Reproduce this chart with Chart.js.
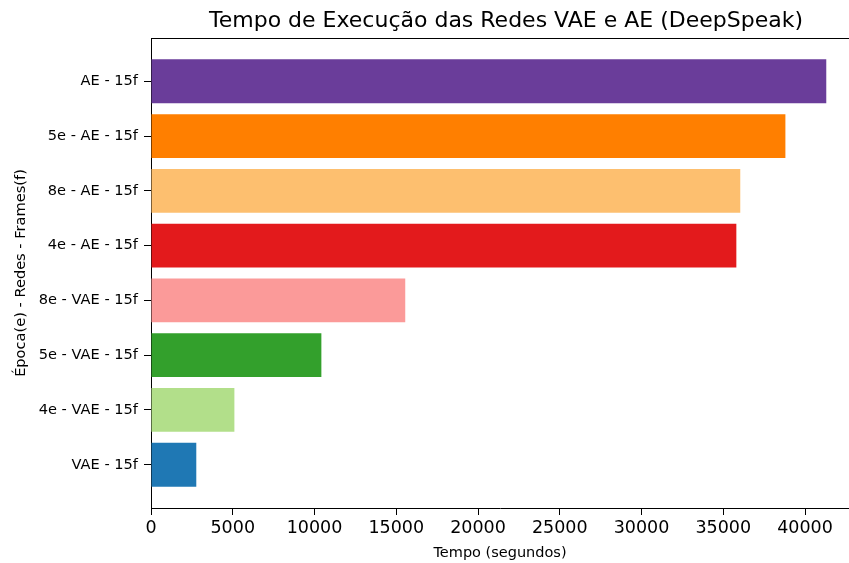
<!DOCTYPE html>
<html>
<head>
<meta charset="utf-8">
<script src="https://cdn.jsdelivr.net/npm/chart.js@4.4.1/dist/chart.umd.min.js"></script>
<style>
  html, body { margin: 0; padding: 0; background: #fff; }
</style>
</head>
<body>
<canvas id="tempoChart" width="849" height="563"></canvas>
<script>
// dados (de baixo para cima)
const labels = ["VAE - 15f", "4e - VAE - 15f", "5e - VAE - 15f", "8e - VAE - 15f",
                "4e - AE - 15f", "8e - AE - 15f", "5e - AE - 15f", "AE - 15f"];
const tempos = [2770, 5100, 10420, 15550, 35800, 36040, 38800, 41300];
const colors = ["#1f78b4", "#b2df8a", "#33a02c", "#fb9a99",
                "#e31a1c", "#fdbf6f", "#ff7f00", "#6a3d9a"];
const xTicks = [0, 5000, 10000, 15000, 20000, 25000, 30000, 35000, 40000];
const titulo = "Tempo de Execução das Redes VAE e AE (DeepSpeak)";

const fonte = '"DejaVu Sans", sans-serif';

// titulo + borda de cima (estilo matplotlib)
const tituloPlugin = {
  id: "tituloTopo",
  afterDraw(chart) {
    const { ctx, chartArea } = chart;
    ctx.save();
    ctx.strokeStyle = "#000";
    ctx.lineWidth = 1;
    ctx.beginPath();
    ctx.moveTo(chartArea.left, chartArea.top + 0.5);
    ctx.lineTo(chartArea.right, chartArea.top + 0.5);
    ctx.stroke();
    ctx.font = "22px " + fonte;
    ctx.fillStyle = "#000";
    ctx.textAlign = "center";
    ctx.textBaseline = "alphabetic";
    ctx.fillText(titulo, (chartArea.left + chartArea.right) / 2 + 6, 27);
    ctx.restore();
  }
};

const ctx = document.getElementById("tempoChart");
new Chart(ctx, {
  type: "bar",
  data: {
    datasets: [{
      data: tempos.map((v, i) => ({ x: v, y: i })),
      backgroundColor: colors,
      borderWidth: 0,
      categoryPercentage: 1,
      barPercentage: 0.8
    }]
  },
  options: {
    indexAxis: "y",
    responsive: false,
    animation: false,
    layout: { padding: { top: 38, left: 0, right: 0, bottom: 0 } },
    plugins: {
      legend: { display: false },
      tooltip: { enabled: false },
      title: { display: false }
    },
    scales: {
      x: {
        type: "linear",
        min: 0,
        max: 42690,
        afterBuildTicks: (scale) => { scale.ticks = xTicks.map(v => ({ value: v })); },
        afterFit: (scale) => { scale.height = 55; },
        ticks: {
          color: "#000",
          font: { family: fonte, size: 17.5 },
          padding: 3,
          maxRotation: 0,
          autoSkip: false,
          callback: (v) => String(v)
        },
        grid: { drawOnChartArea: false, drawTicks: true, tickLength: 7, tickColor: "#000", tickWidth: 1 },
        border: { display: true, color: "#000", width: 1 },
        title: {
          display: true,
          text: "Tempo (segundos)",
          color: "#000",
          font: { family: fonte, size: 14.5 },
          padding: { top: 0, bottom: 1 }
        }
      },
      y: {
        type: "linear",
        min: -0.79,
        max: 7.79,
        offset: false,
        afterBuildTicks: (scale) => { scale.ticks = labels.map((_, i) => ({ value: i })); },
        afterFit: (scale) => { scale.width = 151; },
        ticks: {
          color: "#000",
          font: { family: fonte, size: 14.6 },
          padding: 6,
          autoSkip: false,
          callback: (v) => labels[Math.round(v)]
        },
        grid: { offset: false, drawOnChartArea: false, drawTicks: true, tickLength: 7, tickColor: "#000", tickWidth: 1 },
        border: { display: true, color: "#000", width: 1 },
        title: {
          display: true,
          text: "Época(e) - Redes - Frames(f)",
          color: "#000",
          font: { family: fonte, size: 14.6 },
          padding: { top: 12, bottom: 0 }
        }
      }
    }
  },
  plugins: [tituloPlugin]
});
</script>
</body>
</html>
